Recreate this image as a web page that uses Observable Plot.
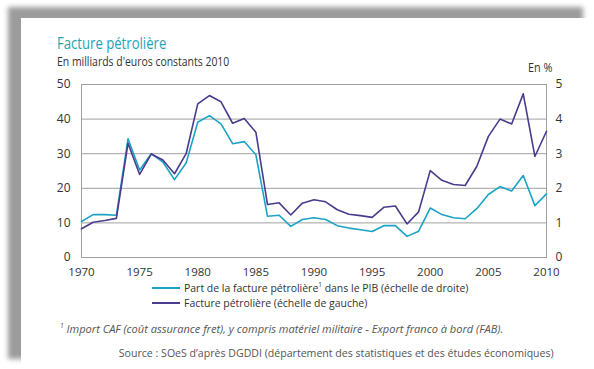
<!DOCTYPE html>
<html><head><meta charset="utf-8">
<script src="https://cdn.jsdelivr.net/npm/d3@7"></script>
<script src="https://cdn.jsdelivr.net/npm/@observablehq/plot@0.6"></script>
<style>
html,body{margin:0;padding:0;background:#fff;}
#wrap{position:relative;width:594px;height:369px;overflow:hidden;font-family:"Open Sans",sans-serif;color:#333;}
#card{position:absolute;left:21px;top:18px;width:575px;height:352px;background:#fff;box-shadow:-13px -11px 5px #9c9c9c;}
.t{position:absolute;white-space:nowrap;line-height:13px;transform-origin:left center;}
#chart{position:absolute;left:0;top:72px;}
.sw{position:absolute;width:28px;height:0;border-top:2px solid;}
sup{font-size:7px;line-height:0;vertical-align:5px;}
</style></head>
<body><div id="wrap">
<div id="card"></div>
<div class="t" style="left:57px;top:34px;font-size:16px;line-height:18px;color:#1aa5b5;transform:scaleX(0.82);">Facture pétrolière</div>
<div class="t" style="left:57px;top:55px;font-size:12px;transform:scaleX(0.87);">En milliards d'euros constants 2010</div>
<div class="t" style="left:528px;top:61px;font-size:12px;transform:scaleX(0.9);">En %</div>
<div id="chart"></div>
<div class="sw" style="left:152px;top:287px;border-color:#1ba3c6"></div>
<div class="t" style="left:184px;top:281px;font-size:11.5px;transform:scaleX(0.91);">Part de la facture pétrolière<sup>1</sup> dans le PIB (échelle de droite)</div>
<div class="sw" style="left:152px;top:302px;border-color:#4a3b8c"></div>
<div class="t" style="left:184px;top:296px;font-size:11.5px;transform:scaleX(0.91);">Facture pétrolière (échelle de gauche)</div>
<div class="t" style="left:60px;top:322px;font-size:11.5px;font-style:italic;color:#555;transform:scaleX(0.96);"><sup>1</sup> Import CAF (coût assurance fret), y compris matériel militaire - Export franco à bord (FAB).</div>
<div class="t" style="right:40px;top:346px;font-size:11.5px;color:#555;transform-origin:right center;transform:scaleX(0.92);">Source : SOeS d’après DGDDI (département des statistiques et des études économiques)</div>
</div>
<script>
const years = d3.range(1970, 2011);
const facture = [8.3,10.2,10.7,11.3,33.0,24.0,29.9,28.2,24.2,30.0,44.4,46.8,45.0,38.8,40.2,36.2,15.3,15.8,12.3,15.7,16.7,16.1,13.8,12.5,12.1,11.6,14.5,14.9,9.7,13.2,25.1,22.3,21.1,20.8,26.3,35.0,40.0,38.6,47.3,29.2,36.5];
const partPIB = [1.04,1.24,1.24,1.22,3.43,2.53,3.00,2.76,2.25,2.73,3.91,4.10,3.86,3.29,3.35,2.97,1.19,1.22,0.90,1.10,1.15,1.10,0.92,0.85,0.80,0.75,0.92,0.92,0.61,0.76,1.43,1.24,1.15,1.12,1.41,1.82,2.05,1.92,2.37,1.50,1.84];
const leftTicks = [0,10,20,30,40,50];
const rightTicks = [0,1,2,3,4,5];
const xTicks = [1970,1975,1980,1985,1990,1995,2000,2005,2010];

const dataF = years.map((y,i)=>({year:y, v:facture[i]}));
const dataP = years.map((y,i)=>({year:y, v:partPIB[i]}));

const chart = Plot.plot({
  width:594, height:200,
  marginLeft:81, marginRight:48, marginTop:12, marginBottom:15,
  style:{fontFamily:"'Open Sans',sans-serif", fontSize:"11.5px", color:"#333", background:"transparent", overflow:"visible"},
  x:{domain:[1970,2010]},
  y:{domain:[0,50]},
  marks:[
    Plot.gridY(leftTicks.filter(d=>d>0&&d<50), {stroke:"#a0a0a0", strokeOpacity:1}),
    Plot.frame({stroke:"#a0a0a0"}),
    Plot.line(dataP, {x:"year", y:d=>d.v*10, stroke:"#1ba3c6", strokeWidth:1.6}),
    Plot.line(dataF, {x:"year", y:"v", stroke:"#4a3b8c", strokeWidth:1.6}),
    Plot.axisY(leftTicks, {anchor:"left", tickSize:0, tickPadding:11, label:null, fill:"#333", fontSize:12}),
    Plot.axisY(rightTicks.map(d=>d*10), {anchor:"right", tickSize:0, tickPadding:9, tickFormat:d=>String(d/10), label:null, fill:"#333", fontSize:12}),
    Plot.axisX(xTicks, {tickSize:0, tickPadding:10, tickFormat:d=>String(d), label:null, fill:"#333", fontSize:11.5})
  ]
});
document.getElementById("chart").appendChild(chart);
</script>
</body></html>
